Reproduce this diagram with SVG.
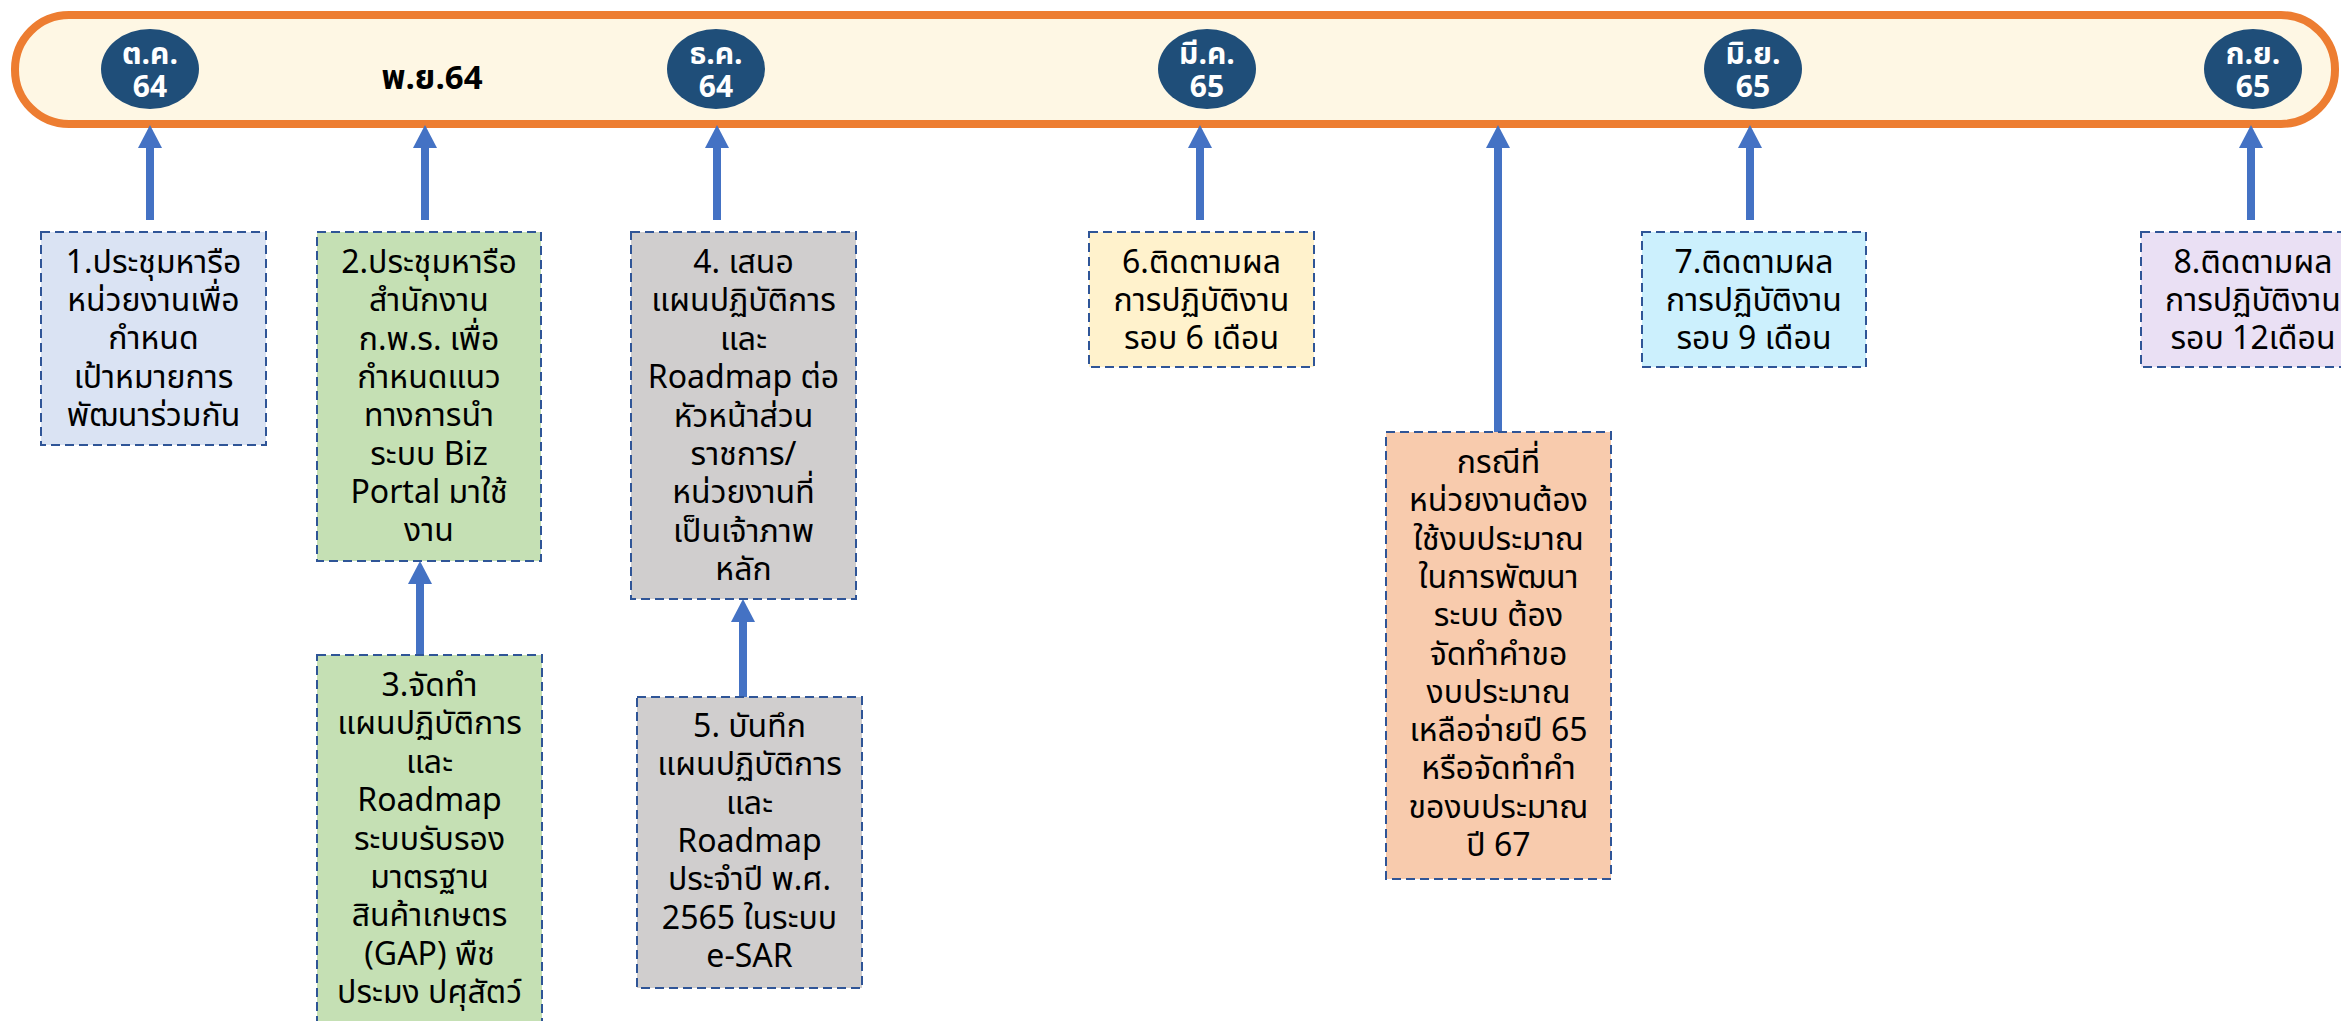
<svg xmlns="http://www.w3.org/2000/svg" width="2341" height="1021" viewBox="0 0 2341 1021">
<style>
.t{font-family:Tahoma,"Noto Sans Thai","Leelawadee UI","DejaVu Sans",sans-serif;font-size:32px;text-anchor:middle;fill:#000}
.c{font-family:Tahoma,"Noto Sans Thai","Leelawadee UI","DejaVu Sans",sans-serif;font-size:30px;font-weight:bold;text-anchor:middle;fill:#fff}
.box{stroke:#2F5597;stroke-width:2;stroke-dasharray:9 5}
.ar{stroke:#4472C4;stroke-width:8;fill:none;marker-end:url(#ah)}
.dot{fill:#1F4E79}
</style>
<defs>
<marker id="ah" markerUnits="userSpaceOnUse" markerWidth="24" markerHeight="24" viewBox="0 0 23 24" refX="0" refY="12" orient="auto">
<path d="M0,0 L23,12 L0,24 z" fill="#4472C4"/>
</marker>
</defs>
<rect width="2341" height="1021" fill="#fff"/>
<g id="timeline">
<rect x="15" y="15" width="2320" height="109" rx="54" ry="54" fill="#FEF7E4" stroke="#ED7D31" stroke-width="8"/>
</g>
<g id="m-oct64"><ellipse class="dot" cx="150" cy="69" rx="49" ry="40"/><text class="c" x="150" y="64">ต.ค.</text><text class="c" x="150" y="97">64</text></g>
<g id="m-nov64"><text x="432" y="89" style="font-family:Tahoma,'Noto Sans Thai','DejaVu Sans',sans-serif;font-size:33px;font-weight:bold;text-anchor:middle;fill:#000">พ.ย.64</text></g>
<g id="m-dec64"><ellipse class="dot" cx="716" cy="69" rx="49" ry="40"/><text class="c" x="716" y="64">ธ.ค.</text><text class="c" x="716" y="97">64</text></g>
<g id="m-mar65"><ellipse class="dot" cx="1207" cy="69" rx="49" ry="40"/><text class="c" x="1207" y="64">มี.ค.</text><text class="c" x="1207" y="97">65</text></g>
<g id="m-jun65"><ellipse class="dot" cx="1753" cy="69" rx="49" ry="40"/><text class="c" x="1753" y="64">มิ.ย.</text><text class="c" x="1753" y="97">65</text></g>
<g id="m-sep65"><ellipse class="dot" cx="2253" cy="69" rx="49" ry="40"/><text class="c" x="2253" y="64">ก.ย.</text><text class="c" x="2253" y="97">65</text></g>
<g id="connectors">
<line class="ar" x1="150" y1="220" x2="150" y2="148"/>
<line class="ar" x1="425" y1="220" x2="425" y2="148"/>
<line class="ar" x1="717" y1="220" x2="717" y2="148"/>
<line class="ar" x1="1200" y1="220" x2="1200" y2="148"/>
<line class="ar" x1="1498" y1="432" x2="1498" y2="148"/>
<line class="ar" x1="1750" y1="220" x2="1750" y2="148"/>
<line class="ar" x1="2251" y1="220" x2="2251" y2="148"/>
<line class="ar" x1="420" y1="655" x2="420" y2="584"/>
<line class="ar" x1="743" y1="697" x2="743" y2="622"/>
</g>
<g id="n1"><rect class="box" x="41" y="232" width="225" height="213" fill="#DAE3F3"/>
<text class="t" y="273"><tspan x="153.5">1.ประชุมหารือ</tspan><tspan x="153.5" dy="38.2">หน่วยงานเพื่อ</tspan><tspan x="153.5" dy="38.2">กำหนด</tspan><tspan x="153.5" dy="38.2">เป้าหมายการ</tspan><tspan x="153.5" dy="38.2">พัฒนาร่วมกัน</tspan></text></g>
<g id="n2"><rect class="box" x="317" y="232" width="224" height="329" fill="#C5E0B4"/>
<text class="t" y="273"><tspan x="429">2.ประชุมหารือ</tspan><tspan x="429" dy="38.3">สำนักงาน</tspan><tspan x="429" dy="38.3">ก.พ.ร. เพื่อ</tspan><tspan x="429" dy="38.3">กำหนดแนว</tspan><tspan x="429" dy="38.3">ทางการนำ</tspan><tspan x="429" dy="38.3">ระบบ Biz</tspan><tspan x="429" dy="38.3">Portal มาใช้</tspan><tspan x="429" dy="38.3">งาน</tspan></text></g>
<g id="n3"><rect class="box" x="317" y="655" width="225" height="380" fill="#C5E0B4"/>
<text class="t" y="696"><tspan x="429.5">3.จัดทำ</tspan><tspan x="429.5" dy="38.4">แผนปฏิบัติการ</tspan><tspan x="429.5" dy="38.4">และ</tspan><tspan x="429.5" dy="38.4">Roadmap</tspan><tspan x="429.5" dy="38.4">ระบบรับรอง</tspan><tspan x="429.5" dy="38.4">มาตรฐาน</tspan><tspan x="429.5" dy="38.4">สินค้าเกษตร</tspan><tspan x="429.5" dy="38.4">(GAP) พืช</tspan><tspan x="429.5" dy="38.4">ประมง ปศุสัตว์</tspan></text></g>
<g id="n4"><rect class="box" x="631" y="232" width="225" height="367" fill="#D0CECE"/>
<text class="t" y="273"><tspan x="743.5">4. เสนอ</tspan><tspan x="743.5" dy="38.4">แผนปฏิบัติการ</tspan><tspan x="743.5" dy="38.4">และ</tspan><tspan x="743.5" dy="38.4">Roadmap ต่อ</tspan><tspan x="743.5" dy="38.4">หัวหน้าส่วน</tspan><tspan x="743.5" dy="38.4">ราชการ/</tspan><tspan x="743.5" dy="38.4">หน่วยงานที่</tspan><tspan x="743.5" dy="38.4">เป็นเจ้าภาพ</tspan><tspan x="743.5" dy="38.4">หลัก</tspan></text></g>
<g id="n5"><rect class="box" x="637" y="697" width="225" height="291" fill="#D0CECE"/>
<text class="t" y="737"><tspan x="749.5">5. บันทึก</tspan><tspan x="749.5" dy="38.3">แผนปฏิบัติการ</tspan><tspan x="749.5" dy="38.3">และ</tspan><tspan x="749.5" dy="38.3">Roadmap</tspan><tspan x="749.5" dy="38.3">ประจำปี พ.ศ.</tspan><tspan x="749.5" dy="38.3">2565 ในระบบ</tspan><tspan x="749.5" dy="38.3">e-SAR</tspan></text></g>
<g id="n6"><rect class="box" x="1089" y="232" width="225" height="135" fill="#FFF2CC"/>
<text class="t" y="273"><tspan x="1201.5">6.ติดตามผล</tspan><tspan x="1201.5" dy="38">การปฏิบัติงาน</tspan><tspan x="1201.5" dy="38">รอบ 6 เดือน</tspan></text></g>
<g id="n-budget"><rect class="box" x="1386" y="432" width="225" height="447" fill="#F8CBAD"/>
<text class="t" y="473"><tspan x="1498.5">กรณีที่</tspan><tspan x="1498.5" dy="38.3">หน่วยงานต้อง</tspan><tspan x="1498.5" dy="38.3">ใช้งบประมาณ</tspan><tspan x="1498.5" dy="38.3">ในการพัฒนา</tspan><tspan x="1498.5" dy="38.3">ระบบ ต้อง</tspan><tspan x="1498.5" dy="38.3">จัดทำคำขอ</tspan><tspan x="1498.5" dy="38.3">งบประมาณ</tspan><tspan x="1498.5" dy="38.3">เหลือจ่ายปี 65</tspan><tspan x="1498.5" dy="38.3">หรือจัดทำคำ</tspan><tspan x="1498.5" dy="38.3">ของบประมาณ</tspan><tspan x="1498.5" dy="38.3">ปี 67</tspan></text></g>
<g id="n7"><rect class="box" x="1642" y="232" width="224" height="135" fill="#CCF0FD"/>
<text class="t" y="273"><tspan x="1754">7.ติดตามผล</tspan><tspan x="1754" dy="38">การปฏิบัติงาน</tspan><tspan x="1754" dy="38">รอบ 9 เดือน</tspan></text></g>
<g id="n8"><rect class="box" x="2141" y="232" width="225" height="135" fill="#EAE0F4"/>
<text class="t" y="273"><tspan x="2253">8.ติดตามผล</tspan><tspan x="2253" dy="38">การปฏิบัติงาน</tspan><tspan x="2253" dy="38">รอบ 12เดือน</tspan></text></g>
</svg>
